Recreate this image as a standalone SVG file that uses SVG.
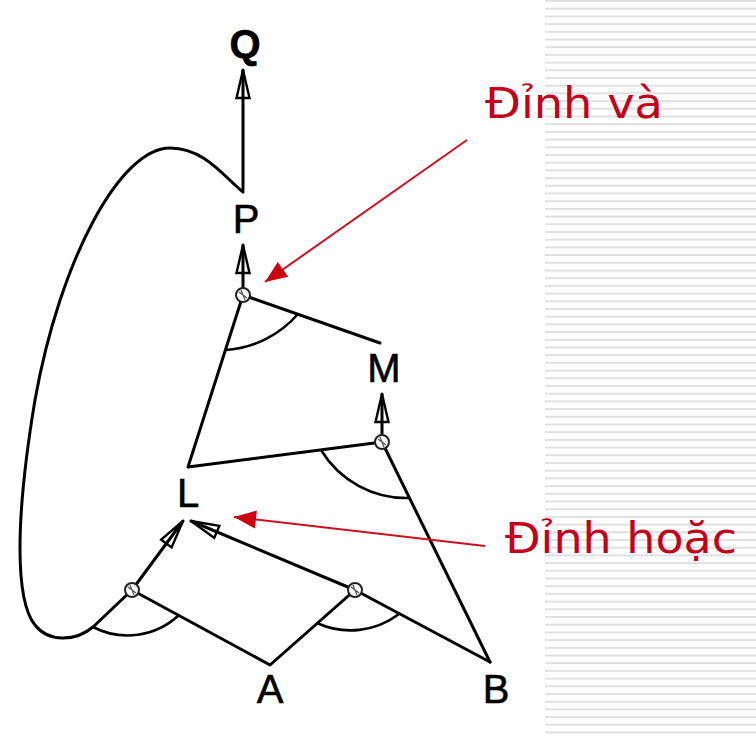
<svg xmlns="http://www.w3.org/2000/svg" width="756" height="739" viewBox="0 0 756 739">
<style>
.ln{fill:none;stroke:#000;stroke-width:3;stroke-linecap:round;stroke-linejoin:round}
.arc{fill:none;stroke:#000;stroke-width:2.6}
.lbl{font-family:"Liberation Sans",Arial,sans-serif;font-size:40px;fill:#000;text-anchor:middle;stroke:#000;stroke-width:0.6}
.red{font-family:"DejaVu Sans",Verdana,sans-serif;font-size:43px;fill:#c4001a}
.rl{fill:none;stroke:#cc1020;stroke-width:2}
.nd{fill:#fff;stroke:#222;stroke-width:2}
</style>
<defs>
<pattern id="stripes" patternUnits="userSpaceOnUse" x="0" y="0" width="211" height="7.7">
<rect x="0" y="0" width="211" height="2" fill="#e0e0e0"/>
</pattern>
<marker id="ah" markerUnits="userSpaceOnUse" markerWidth="40" markerHeight="20" viewBox="-32 -10 34 20" refX="0" refY="0" orient="auto">
<path d="M0,0 L-28,-6.5 L-28,6.5 Z" fill="none" stroke="#000" stroke-width="2.4" stroke-linejoin="miter"/>
</marker>
<marker id="rh" markerUnits="userSpaceOnUse" markerWidth="30" markerHeight="24" viewBox="-24 -12 26 24" refX="0" refY="0" orient="auto">
<path d="M0,0 L-22,-9 L-22,9 Z" fill="#cc0011"/>
</marker>
</defs>
<rect x="0" y="0" width="756" height="739" fill="#fff"/>
<rect x="545" y="0" width="211" height="739" fill="url(#stripes)"/>

<g id="connectors">
<path class="ln" d="M243,190 L243,70" marker-end="url(#ah)"/>
<path class="ln" d="M243,192 C225,178 205,148 170,148 C120,148 60,260 35,400 C15,520 15,600 35,625 C48,642 75,642 93,627 L132,590"/>
<path class="ln" d="M243,295 L243,245" marker-end="url(#ah)"/>
<path class="ln" d="M243,295 L380,343"/>
<path class="ln" d="M243,295 L188,467 L382,442"/>
<path class="ln" d="M382,442 L382,394" marker-end="url(#ah)"/>
<path class="ln" d="M382,442 L490,662"/>
<path class="ln" d="M132,590 L270,665 L355,590 L490,662"/>
<path class="ln" d="M132,590 L183,521" marker-end="url(#ah)"/>
<path class="ln" d="M355,590 L191,521" marker-end="url(#ah)"/>
<path class="arc" d="M225,350 A105,105 0 0,0 298,314"/>
<path class="arc" d="M321,450 A100,100 0 0,0 410,498"/>
<path class="arc" d="M93,627 A75,75 0 0,0 179,615"/>
<path class="arc" d="M317,623 A80,80 0 0,0 399,614"/>
<path class="rl" d="M467,140 L265,282" marker-end="url(#rh)"/>
<path class="rl" d="M485,546 L234,517" marker-end="url(#rh)"/>
</g>

<g id="and-P"><circle class="nd" cx="243" cy="295" r="7"/><path d="M239,292 L247,298 M241,290 L245,300" stroke="#555" stroke-width="1.2"/></g>
<g id="and-M"><circle class="nd" cx="382" cy="442" r="7"/><path d="M378,439 L386,445 M380,437 L384,447" stroke="#555" stroke-width="1.2"/></g>
<g id="and-L1"><circle class="nd" cx="132" cy="590" r="7"/><path d="M128,587 L136,593 M130,585 L134,595" stroke="#555" stroke-width="1.2"/></g>
<g id="and-L2"><circle class="nd" cx="355" cy="590" r="7"/><path d="M351,587 L359,593 M353,585 L357,595" stroke="#555" stroke-width="1.2"/></g>

<g id="Q"><text class="lbl" x="245" y="58" font-weight="bold">Q</text></g>
<g id="P"><text class="lbl" x="246" y="233">P</text></g>
<g id="M"><text class="lbl" x="384" y="382">M</text></g>
<g id="L"><text class="lbl" x="188" y="507">L</text></g>
<g id="A"><text class="lbl" x="270" y="703">A</text></g>
<g id="B"><text class="lbl" x="496" y="703">B</text></g>

<g id="label-and"><text class="red" x="485" y="118" textLength="178" lengthAdjust="spacingAndGlyphs">Đỉnh và</text></g>
<g id="label-or"><text class="red" x="505" y="553" textLength="232" lengthAdjust="spacingAndGlyphs">Đỉnh hoặc</text></g>
</svg>
